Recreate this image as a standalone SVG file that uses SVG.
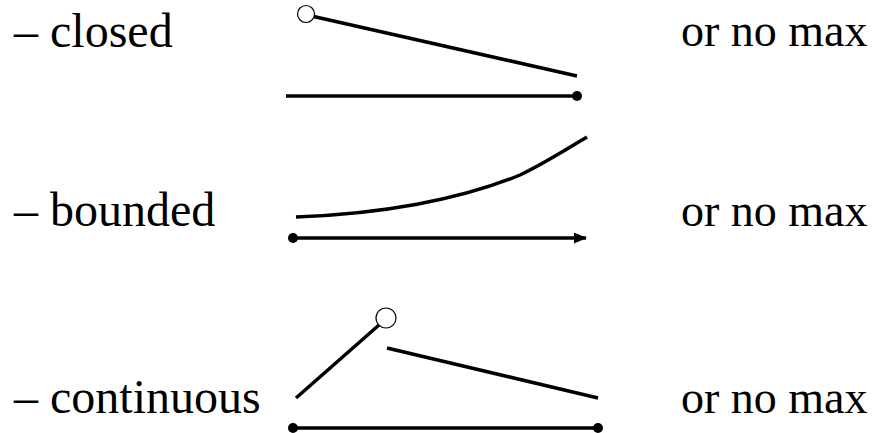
<svg xmlns="http://www.w3.org/2000/svg" width="877" height="433" viewBox="0 0 877 433">
<style>
text{font-family:"Liberation Serif","Times New Roman",serif;font-size:48px;fill:#000}
text.r{font-size:46px}
.l{stroke:#000;stroke-width:3.5;fill:none}
.d{fill:#000}
.o{fill:#fff;stroke:#000;stroke-width:1.2}
</style>
<defs>
<marker id="ah" markerWidth="13" markerHeight="11" refX="12" refY="5.5" orient="auto" markerUnits="userSpaceOnUse"><path d="M0,0 L13,5.5 L0,11 Z" fill="#000"/></marker>
</defs>
<g id="labels">
<text x="14" y="47">– closed</text>
<text x="14" y="226">– bounded</text>
<text x="14" y="413">– continuous</text>
<text class="r" x="681" y="46">or no max</text>
<text class="r" x="681" y="226">or no max</text>
<text class="r" x="681" y="413">or no max</text>
</g>
<g id="closed">
<line class="l" x1="307" y1="15" x2="577" y2="76"/>
<circle class="o" cx="306" cy="14" r="8.5"/>
<line class="l" x1="286" y1="96" x2="577" y2="96"/>
<circle class="d" cx="577" cy="96" r="5"/>
</g>
<g id="bounded">
<path class="l" d="M296,217 C380,214 460,200 520,175 C545,163 565,150 587,137"/>
<line class="l" x1="293" y1="238" x2="586" y2="238" marker-end="url(#ah)"/>
<circle class="d" cx="293" cy="238" r="5"/>
</g>
<g id="continuous">
<line class="l" x1="296" y1="398" x2="379" y2="325"/>
<circle class="o" cx="386" cy="318" r="10"/>
<line class="l" x1="387" y1="348" x2="598" y2="398"/>
<line class="l" x1="293" y1="428" x2="598" y2="428"/>
<circle class="d" cx="293" cy="428" r="5"/>
<circle class="d" cx="598" cy="428" r="5"/>
</g>
</svg>
